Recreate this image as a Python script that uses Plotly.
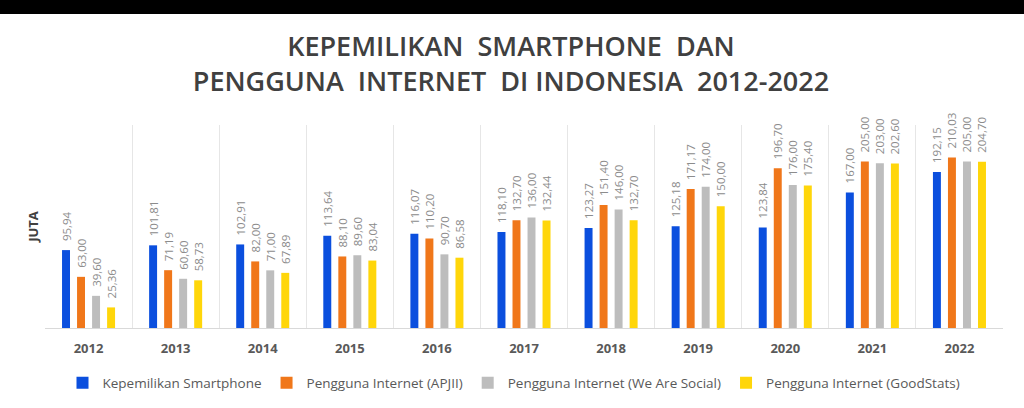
import plotly.graph_objects as go

years = ["2012", "2013", "2014", "2015", "2016", "2017", "2018", "2019", "2020", "2021", "2022"]
smartphone = [95.94, 101.81, 102.91, 113.64, 116.07, 118.10, 123.27, 125.18, 123.84, 167.00, 192.15]
apjii = [63.00, 71.19, 82.00, 88.10, 110.20, 132.70, 151.40, 171.17, 196.70, 205.00, 210.03]
wearesocial = [39.60, 60.60, 71.00, 89.60, 90.70, 136.00, 146.00, 174.00, 176.00, 203.00, 205.00]
goodstats = [25.36, 58.73, 67.89, 83.04, 86.58, 132.44, 132.70, 150.00, 175.40, 202.60, 204.70]

series_names = ["Kepemilikan Smartphone", "Pengguna Internet (APJII)",
                "Pengguna Internet (We Are Social)", "Pengguna Internet (GoodStats)"]
series_values = [smartphone, apjii, wearesocial, goodstats]
colors = ["#0B4FDE", "#F0771A", "#BDBDBD", "#FFD60A"]

W, H = 1024, 408
L, R, T, B = 45, 21, 125, 80
plot_h = H - T - B
plot_w = W - L - R

fig = go.Figure()
for name, vals, col in zip(series_names, series_values, colors):
    fig.add_trace(go.Bar(
        x=years, y=vals, name=name,
        marker=dict(color=col, line=dict(width=0)),
        texttemplate="\u00a0\u00a0%{y:.2f}",
        textposition="outside",
        textangle=-90,
        constraintext="none",
        cliponaxis=False,
        textfont=dict(family="Open Sans", size=11.5, color="#8C8C8C"),
        hoverinfo="skip",
    ))

fig.update_layout(
    width=W, height=H,
    margin=dict(l=L, r=R, t=T, b=B, autoexpand=False),
    paper_bgcolor="white",
    plot_bgcolor="white",
    separators=",.",
    barmode="group",
    bargap=0.31,
    bargroupgap=0.47,
    font=dict(family="Open Sans", color="#595959"),
    title=dict(
        text="KEPEMILIKAN\u00a0\u00a0SMARTPHONE\u00a0\u00a0DAN<br>PENGGUNA\u00a0\u00a0INTERNET\u00a0\u00a0DI\u00a0INDONESIA\u00a0\u00a02012-2022",
        x=0.499, xanchor="center",
        y=1 - 56 / H, yanchor="middle", yref="container",
        font=dict(family="Open Sans", size=27, color="#404040", weight=600),
    ),
    showlegend=True,
    legend=dict(
        orientation="h",
        x=(514 - L) / plot_w, xanchor="center",
        y=(328 - 383) / plot_h, yanchor="middle",
        font=dict(family="Open Sans", size=13.5, color="#595959"),
        itemwidth=30,
        traceorder="normal",
    ),
    shapes=[dict(
        type="rect", xref="paper", yref="paper",
        x0=-L / plot_w - 0.01, x1=1 + R / plot_w + 0.01,
        y0=1 + (T - 14) / plot_h, y1=1 + T / plot_h + 0.01,
        fillcolor="black", line=dict(width=0), layer="below",
    )],
)

fig.update_xaxes(
    type="category",
    tickson="boundaries",
    showgrid=True, gridcolor="#E6E6E6", gridwidth=1,
    showline=True, linecolor="#D9D9D9", linewidth=1,
    ticks="", ticklabelstandoff=8,
    tickfont=dict(family="Open Sans", size=13, color="#595959", weight="bold"),
)
fig.update_yaxes(
    range=[0, 250],
    showgrid=False, zeroline=False, showticklabels=False, showline=False,
    title=dict(text="JUTA", standoff=2,
               font=dict(family="Open Sans", size=13, color="#404040", weight="bold")),
)

fig.write_html("out.html", config={"displayModeBar": False},
               post_script="document.body.style.margin='0';document.body.style.overflow='hidden';")
